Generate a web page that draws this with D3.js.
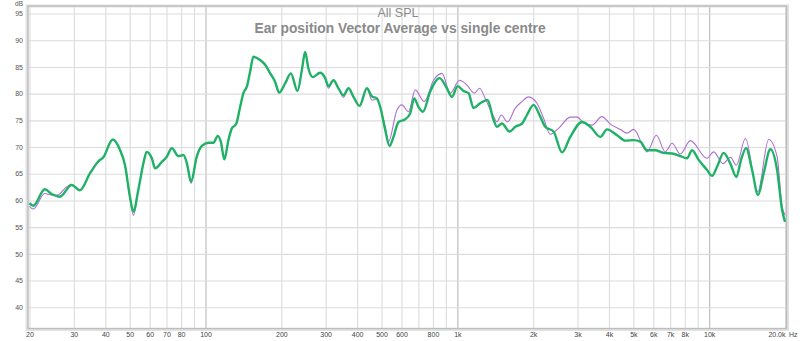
<!DOCTYPE html>
<html><head><meta charset="utf-8">
<script src="https://cdn.jsdelivr.net/npm/d3@7/dist/d3.min.js"></script>
<style>body{margin:0;background:#fff}svg{display:block}</style>
</head><body>
<svg id="chart" width="800" height="341"></svg>
<script>
// ---- data ----
const titleLines = ["All SPL", "Ear position Vector Average vs single centre"];

const greenFreq = [20,20.7,23,24.5,26.4,29.4,31.7,34.8,37.5,39.3,42.8,45.8,47.9,50.1,51.7,54.1,56.7,58.4,61.2,63.1,67,70.2,73.5,78,81.7,84.3,87.6,92.3,96.7,102.7,107.5,111.9,115,118.8,123.3,127.2,132.3,137.2,141.4,145.9,150.3,154.9,164.7,172.5,180.6,189,196,207,218.2,231.8,241.3,248.6,256.2,266.7,285.2,298.6,307.8,322.2,337.3,353.1,369.7,387,408.8,437.3,457.8,479.3,494,517,537.8,557.8,583.8,620.6,649.6,674,701,729.8,780.2,849.4,908.8,951.4,1002,1058,1108,1159,1232,1318,1392,1436,1503,1612,1698,1806,1890,2007,2134,2234,2410,2604,2808,3126,3373,3696,3930,4307,4644,5012,5328,5666,6112,6594,7122,7682,8166,8550,9082,9806,10266,10746,11416,12136,12820,13384,14012,14802,15636,16460,17500,18606,19480,20000];
const greenDb = [59.5,59.0,62.1,61.2,60.7,62.9,61.9,65.1,67.3,68.1,71.4,69.4,66.6,60.7,57.9,62.0,67.0,69.1,67.9,66.0,67.2,68.2,69.8,68.3,68.5,67.0,63.5,68.2,70.2,70.8,70.8,72.1,71.0,67.7,71.3,73.5,74.3,77.5,80.1,81.3,84.1,86.9,86.3,85.4,83.8,82.2,80.2,81.9,83.8,80.5,84.4,87.8,84.7,83.1,83.9,82.9,81.4,82.5,81.0,79.7,81.0,79.4,77.7,81.0,79.5,79.1,77.5,73.2,70.2,71.9,74.7,75.2,76.3,79.1,77.5,76.6,80.4,82.9,81.0,79.4,81.4,80.5,80.1,77.3,78.2,78.8,75.1,73.8,74.4,72.9,73.8,74.4,76.0,77.9,75.7,73.8,72.9,69.0,71.9,74.7,73.8,71.9,73.3,72.2,71.2,71.3,71.0,69.4,69.4,68.9,68.8,68.3,67.9,69.4,67.6,65.7,64.6,66.3,68.9,66.9,64.4,67.6,69.8,65.7,61.0,65.1,69.6,65.7,58.2,56.0];

const purpleFreq = [20,20.7,23,24.5,25.8,28,29.4,31.7,34.8,37.5,39.3,42.8,45.8,47.9,50.1,51.7,54.1,56.7,58.4,61.2,63.1,67,70.2,73.5,78,81.7,84.3,87.6,92.3,96.7,102.7,107.5,111.9,115,118.8,123.3,127.2,132.3,137.2,141.4,145.9,150.3,154.9,164.7,172.5,180.6,189,196,207,218.2,231.8,241.3,248.6,256.2,266.7,285.2,298.6,307.8,322.2,337.3,353.1,369.7,387,408.8,437.3,457.8,479.3,494,517,532.7,575.2,602,639.8,680.2,738.6,804.2,868.4,936.8,1020,1092,1167,1225,1290,1392,1436,1493,1582,1698,1806,1917,2070,2200,2339,2523,2808,2986,3178,3426,3750,4050,4436,4718,5012,5666,6168,6698,7122,7682,8418,9806,10418,11352,12136,12820,13922,15576,17224,18606,19480,20000];
const purpleDb = [58.9,58.4,61.3,61.0,61.0,62.5,63.0,62.0,65.1,67.3,68.1,71.4,69.4,66.6,60.5,57.2,62.0,67.0,69.1,67.9,66.0,67.2,68.2,69.8,68.3,68.5,67.0,63.2,68.2,70.2,70.8,70.8,72.1,71.0,67.7,71.3,73.5,74.3,77.5,80.1,81.3,84.1,86.9,86.3,85.4,83.8,82.2,80.2,81.9,83.8,80.5,84.4,87.8,84.7,83.1,83.9,82.9,81.0,82.5,81.0,79.3,81.0,79.2,77.7,81.0,78.8,78.9,77.5,73.8,71.0,76.9,77.9,76.6,80.7,78.5,82.5,83.8,80.1,82.5,81.6,80.1,81.0,79.1,75.7,74.7,76.0,74.7,77.3,78.5,79.4,78.2,75.4,72.4,73.5,75.6,75.6,74.5,74.1,75.7,74.3,73.3,72.6,73.3,69.1,72.2,69.1,70.7,68.7,71.2,67.9,69.1,66.9,68.1,66.6,71.6,61.6,71.4,68.2,58.8,57.3];

const gridFreqs = [20,30,40,50,60,70,80,90,100,200,300,400,500,600,700,800,900,1000,2000,3000,4000,5000,6000,7000,8000,9000,10000,20000];
const decadeFreqs = [100,1000,10000];
const xTickFreqs = [20,30,40,50,60,70,80,100,200,300,400,500,600,800,1000,2000,3000,4000,5000,6000,7000,8000,10000,20000];
const xTickLabels = ["20","30","40","50","60","70","80","100","200","300","400","500","600","800","1k","2k","3k","4k","5k","6k","7k","8k","10k","20.0k"];
const yTicks = [40,45,50,55,60,65,70,75,80,85,90,95];

// ---- drawing ----
const svg = d3.select("#chart");
const x = d3.scaleLog().domain([20, 20000]).range([29.5, 785]);
const y = d3.scaleLinear().domain([36, 96]).range([328.6, 8.2]);

const plot = {l: 28, t: 6, r: 786.5, b: 328.5};
const labelFont = "Liberation Sans, Arial, sans-serif";

// gridlines via axes
const gx = svg.append("g").attr("transform", `translate(0,${plot.b})`)
  .call(d3.axisBottom(x).tickValues(gridFreqs).tickSize(-(plot.b - plot.t)).tickFormat(""));
gx.select(".domain").remove();
gx.selectAll(".tick line").attr("stroke", d => decadeFreqs.includes(d) ? "#b9b9b9" : "#dcdcdc").attr("stroke-width", 1.1);

const gy = svg.append("g").attr("transform", `translate(${plot.l},0)`)
  .call(d3.axisLeft(y).tickValues(yTicks).tickSize(-(plot.r - plot.l)).tickPadding(5)
  .tickFormat(d3.format("d")));
gy.select(".domain").remove();
gy.selectAll(".tick line").attr("stroke", "#dcdcdc").attr("stroke-width", 1.1);
gy.selectAll(".tick text").attr("fill", "#555").style("font-family", labelFont).style("font-size", "7px");

// frame with shadow
svg.append("rect").attr("x", plot.l - 1).attr("y", plot.t).attr("width", plot.r - plot.l + 2).attr("height", plot.b - plot.t + 1)
  .attr("fill", "none").attr("stroke", "#e2e2e2").attr("stroke-width", 3);
svg.append("rect").attr("x", plot.l).attr("y", plot.t).attr("width", plot.r - plot.l).attr("height", plot.b - plot.t)
  .attr("fill", "none").attr("stroke", "#bdbdbd").attr("stroke-width", 1.4);

// x tick labels
const xl = svg.append("g").attr("transform", `translate(0,${plot.b})`)
  .call(d3.axisBottom(x).tickValues(xTickFreqs).tickSize(0).tickPadding(4)
  .tickFormat((d, i) => xTickLabels[i]));
xl.select(".domain").remove();
xl.selectAll(".tick text").attr("fill", "#444").style("font-family", labelFont).style("font-size", "7px")
  .attr("text-anchor", d => d === 20000 ? "end" : "middle");

svg.append("text").attr("x", 789).attr("y", 337).text("Hz")
  .attr("fill", "#444").style("font-family", labelFont).style("font-size", "7px");
svg.append("text").attr("x", 23).attr("y", 5.5).attr("text-anchor", "end").text("dB")
  .attr("fill", "#555").style("font-family", labelFont).style("font-size", "6.5px");

// curves
svg.append("defs").append("clipPath").attr("id", "clip").append("rect")
  .attr("x", plot.l).attr("y", plot.t).attr("width", plot.r - plot.l).attr("height", plot.b - plot.t);
const line = d3.line().x(d => x(d[0])).y(d => y(d[1])).curve(d3.curveMonotoneX);
const purple = d3.zip(purpleFreq, purpleDb);
const green = d3.zip(greenFreq, greenDb);
const curves = svg.append("g").attr("clip-path", "url(#clip)");
curves.append("path").datum(purple).attr("d", line).attr("fill", "none").attr("stroke", "#ad6fd3").attr("stroke-width", 1.1);
curves.append("path").datum(green).attr("d", line).attr("fill", "none").attr("stroke", "#1fb266").attr("stroke-width", 2.4).attr("stroke-linejoin", "round");

// title
svg.append("text").attr("x", 398).attr("y", 17).attr("text-anchor", "middle").text(titleLines[0])
  .attr("fill", "#8a8a8a").style("font-family", labelFont).style("font-size", "12.5px");
svg.append("text").attr("x", 400).attr("y", 32.5).attr("text-anchor", "middle").text(titleLines[1])
  .attr("fill", "#8a8a8a").style("font-family", labelFont).style("font-weight", "bold").style("font-size", "13.8px");
</script>
</body></html>
